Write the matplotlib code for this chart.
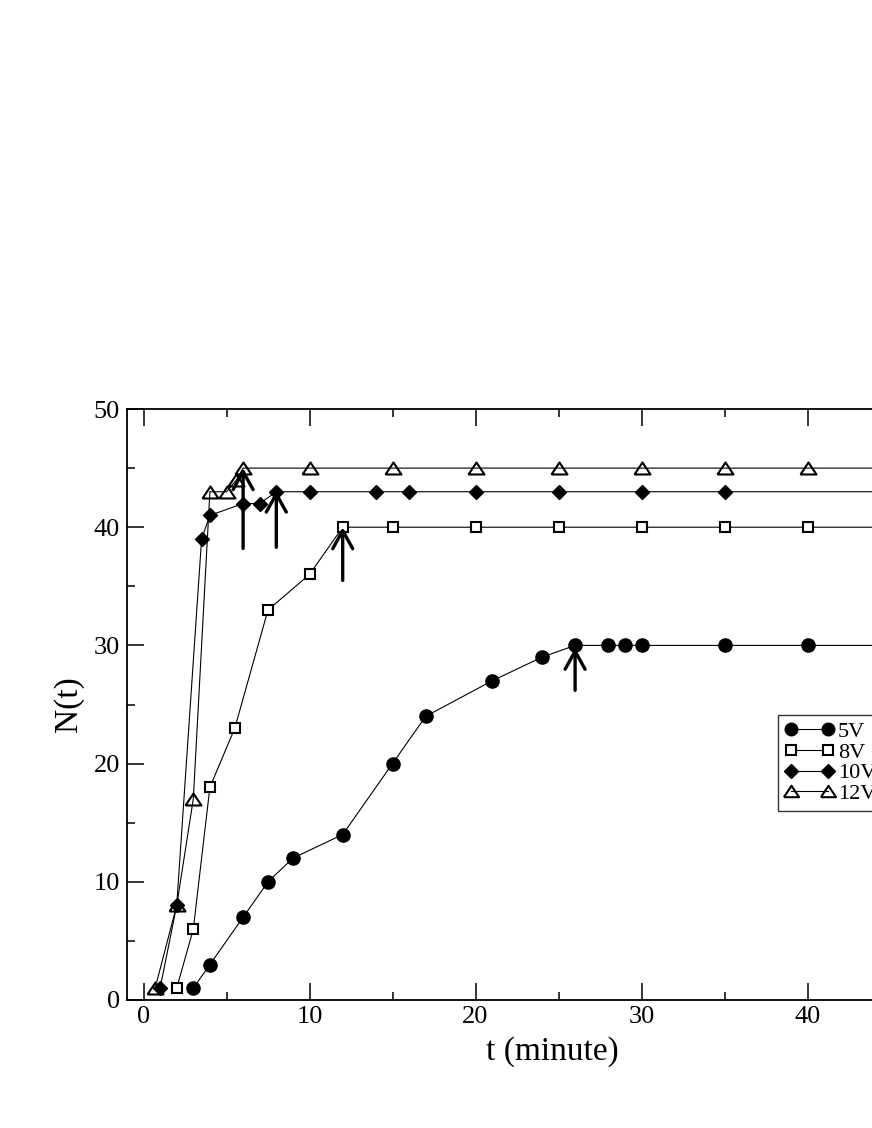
import matplotlib
matplotlib.use("Agg")
import matplotlib.pyplot as plt
from matplotlib.ticker import MultipleLocator

plt.rcParams['font.family'] = ['Liberation Serif', 'DejaVu Serif']

t_5v = [3, 4, 6, 7.5, 9, 12, 15, 17, 21, 24, 26, 28, 29, 30, 35, 40, 45, 50]
n_5v = [1, 3, 7, 10, 12, 14, 20, 24, 27, 29, 30, 30, 30, 30, 30, 30, 30, 30]

t_8v = [2, 3, 4, 5.5, 7.5, 10, 12, 15, 20, 25, 30, 35, 40, 45, 50]
n_8v = [1, 6, 18, 23, 33, 36, 40, 40, 40, 40, 40, 40, 40, 40, 40]

t_10v = [1, 2, 3.5, 4, 6, 7, 8, 10, 14, 16, 20, 25, 30, 35, 45, 50]
n_10v = [1, 8, 39, 41, 42, 42, 43, 43, 43, 43, 43, 43, 43, 43, 43, 43]

t_12v = [0.7, 2, 3, 4, 5, 5.6, 6, 10, 15, 20, 25, 30, 35, 40, 45, 50]
n_12v = [1, 8, 17, 43, 43, 44, 45, 45, 45, 45, 45, 45, 45, 45, 45, 45]

labels = ["5V", "8V", "10V", "12V"]

arrow_t = [6, 8, 12, 26]
arrow_from = [38.2, 38.3, 35.5, 26.2]
arrow_to = [45, 43.1, 40, 29.8]

W, H = 872, 1128
fig = plt.figure(figsize=(W / 100, H / 100), dpi=100)
xmin, xmax = -1, 50
px_per_unit = 16.6
x0_px = 143.5
left_px = x0_px + xmin * px_per_unit
right_px = x0_px + xmax * px_per_unit
bottom_px, top_px = 1000, 409
ax = fig.add_axes([left_px / W, (H - bottom_px) / H,
                   (right_px - left_px) / W, (bottom_px - top_px) / H])
ax.set_xlim(xmin, xmax)
ax.set_ylim(0, 50)

tri = [(-1, -0.75), (1, -0.75), (0, 0.75), (-1, -0.75)]
lw = 0.8
ax.plot(t_5v, n_5v, '-o', color='black', lw=lw, ms=9.5, mfc='black', mec='black',
        label=labels[0], clip_on=False)
ax.plot(t_8v, n_8v, '-s', color='black', lw=lw, ms=7, mfc='white', mec='black',
        mew=1.5, label=labels[1], clip_on=False)
ax.plot(t_10v, n_10v, '-D', color='black', lw=lw, ms=7.3, mfc='black', mec='black',
        label=labels[2], clip_on=False)
ax.plot(t_12v, n_12v, '-', marker=tri, color='black', lw=lw, ms=11.5, mfc='none',
        mec='black', mew=1.5, label=labels[3], clip_on=False)

for x, y0, y1 in zip(arrow_t, arrow_from, arrow_to):
    ax.annotate('', xy=(x, y1), xytext=(x, y0),
                arrowprops=dict(arrowstyle='->,head_length=0.65,head_width=0.36',
                                mutation_scale=20, color='black', lw=2.4,
                                shrinkA=0, shrinkB=0))

ax.xaxis.set_major_locator(MultipleLocator(10))
ax.xaxis.set_minor_locator(MultipleLocator(5))
ax.yaxis.set_major_locator(MultipleLocator(10))
ax.yaxis.set_minor_locator(MultipleLocator(5))
ax.tick_params(which='both', direction='in', top=True, right=True, width=1.1,
               labelsize=19, colors='black')
ax.tick_params(which='major', length=12)
ax.tick_params(which='minor', length=6)
ax.tick_params(axis='y', pad=5)
ax.tick_params(axis='x', pad=4)
for s in ax.spines.values():
    s.set_linewidth(1.3)

ax.set_xlabel('t (minute)', fontsize=24)
ax.set_ylabel('N(t)', fontsize=24)
ax.xaxis.set_label_coords(552 / W, 1 - 1036 / H, transform=fig.transFigure)
ax.yaxis.set_label_coords(84 / W, 1 - 704 / H, transform=fig.transFigure)

leg = ax.legend(loc='upper left', bbox_to_anchor=(778 / W, 1 - 715 / H),
                bbox_transform=fig.transFigure, fontsize=16, numpoints=2,
                handlelength=2.25, handletextpad=0.15, labelspacing=0.0,
                borderpad=0.3, borderaxespad=0, fancybox=False, markerscale=0.95,
                frameon=True)
leg.get_frame().set_edgecolor('black')
leg.get_frame().set_linewidth(1.0)

fig.savefig('out.png', dpi=100)
